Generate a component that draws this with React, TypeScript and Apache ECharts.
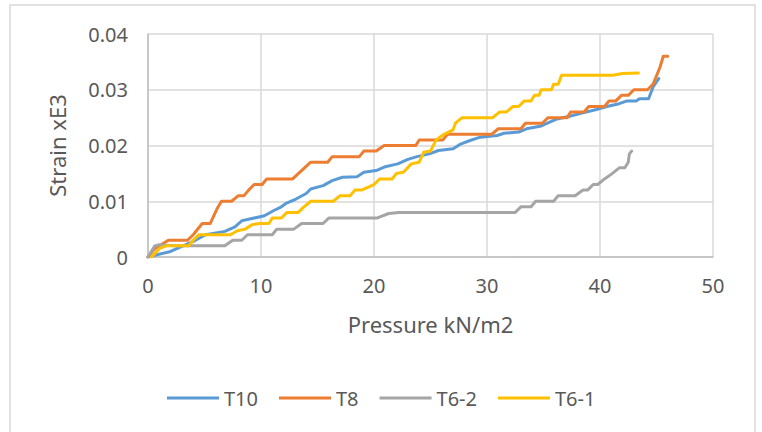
import React, { useEffect, useRef } from "react";
import * as echarts from "echarts";

const xTicks = [0, 10, 20, 30, 40, 50];
const yTicks = [0, 0.01, 0.02, 0.03, 0.04];
const seriesNames = ["T10", "T8", "T6-2", "T6-1"];

const T10: number[][] = [
  [0, 0], [2, 0.001], [4.2, 0.003], [5.1, 0.004], [6.8, 0.0046], [7.7, 0.0054], [8.3, 0.0065],
  [9, 0.0068], [10.3, 0.0074], [11.1, 0.0083], [11.8, 0.009], [12.2, 0.0096], [13.1, 0.0104],
  [14, 0.0114], [14.4, 0.0122], [15.5, 0.0128], [16.3, 0.0137], [17.2, 0.0143], [18.5, 0.0144],
  [19.1, 0.0152], [20.2, 0.0155], [21, 0.0162], [22.1, 0.0167], [23, 0.0175], [23.8, 0.018],
  [24.9, 0.0185], [25.7, 0.0191], [27, 0.0194], [27.6, 0.0202], [28.5, 0.0209], [29.4, 0.0215],
  [30.9, 0.0218], [31.5, 0.0222], [32.8, 0.0224], [33.5, 0.023], [34.8, 0.0235], [36.1, 0.0247],
  [37.4, 0.0253], [38.4, 0.0258], [39.6, 0.0264], [40.6, 0.027], [41.7, 0.0275], [42.4, 0.028],
  [43.2, 0.028], [43.5, 0.0284], [44.3, 0.0284], [44.7, 0.0305], [45.2, 0.032],
];

const T8: number[][] = [
  [0, 0], [0.6, 0.0015], [1.8, 0.003], [3.5, 0.003], [4, 0.004], [4.8, 0.006], [5.5, 0.006],
  [6.1, 0.0086], [6.5, 0.01], [7.4, 0.01], [8, 0.011], [8.5, 0.011], [8.9, 0.012], [9.4, 0.013],
  [10.1, 0.013], [10.5, 0.014], [12.8, 0.014], [14.4, 0.017], [15.9, 0.017], [16.3, 0.018],
  [18.7, 0.018], [19.1, 0.019], [20.2, 0.019], [20.9, 0.02], [23.7, 0.02], [24, 0.021],
  [26.1, 0.021], [26.5, 0.022], [30.4, 0.022], [31, 0.023], [33, 0.023], [33.4, 0.024],
  [34.9, 0.024], [35.4, 0.025], [37.1, 0.025], [37.4, 0.026], [38.6, 0.026], [39, 0.027],
  [40.4, 0.027], [40.8, 0.028], [41.4, 0.028], [41.9, 0.029], [42.5, 0.029], [43, 0.03],
  [44.2, 0.03], [44.7, 0.031], [45.3, 0.034], [45.6, 0.036], [46, 0.036],
];

const T6_2: number[][] = [
  [0, 0], [0.6, 0.002], [1, 0.0022], [2.3, 0.002], [6.8, 0.002], [7.5, 0.003], [8.3, 0.003],
  [8.8, 0.004], [11, 0.004], [11.4, 0.005], [12.9, 0.005], [13.6, 0.006], [15.5, 0.006],
  [16, 0.007], [20.3, 0.007], [21.3, 0.0078], [22.2, 0.008], [32.5, 0.008], [33, 0.009],
  [33.9, 0.009], [34.3, 0.01], [35.9, 0.01], [36.3, 0.011], [37.8, 0.011], [38.5, 0.012],
  [38.9, 0.012], [39.4, 0.013], [39.8, 0.013], [40.4, 0.014], [41.1, 0.015], [41.7, 0.016],
  [42.2, 0.016], [42.5, 0.017], [42.6, 0.0185], [42.8, 0.019],
];

const T6_1: number[][] = [
  [0.3, 0], [0.6, 0.0006], [1, 0.0015], [1.6, 0.002], [3.6, 0.002], [4, 0.003], [4.5, 0.004],
  [7.3, 0.004], [7.9, 0.0047], [8.6, 0.005], [9.2, 0.0058], [9.9, 0.006], [10.7, 0.006],
  [11, 0.007], [11.8, 0.007], [12.3, 0.008], [13.3, 0.008], [13.8, 0.009], [14.4, 0.01],
  [16.4, 0.01], [17, 0.011], [17.9, 0.011], [18.3, 0.012], [18.9, 0.012], [20, 0.013],
  [20.5, 0.014], [21.6, 0.014], [22, 0.015], [22.6, 0.0152], [23.3, 0.0167], [24, 0.017],
  [24.4, 0.0188], [25, 0.019], [25.5, 0.021], [26.2, 0.022], [27, 0.0228], [27.2, 0.024],
  [27.8, 0.025], [30.5, 0.025], [31.1, 0.026], [31.7, 0.026], [32.3, 0.027], [32.8, 0.027],
  [33.3, 0.028], [33.9, 0.028], [34.2, 0.029], [34.6, 0.029], [34.8, 0.03], [35.7, 0.03],
  [35.9, 0.031], [36.3, 0.031], [36.6, 0.0326], [41.1, 0.0326], [42, 0.0329], [43.4, 0.033],
];

const seriesData = [T10, T8, T6_2, T6_1];
const colors = ["#5B9BD5", "#ED7D31", "#A5A5A5", "#FFC000"];

const FONT = "'Noto Sans', sans-serif";

export default function App() {
  const ref = useRef<HTMLDivElement>(null);
  useEffect(() => {
    if (!ref.current) return;
    const chart = echarts.init(ref.current, undefined, { renderer: "svg" });
    chart.setOption({
      animation: false,
      backgroundColor: "#ffffff",
      textStyle: { fontFamily: FONT },
      graphic: [
        {
          type: "rect",
          shape: { x: 10, y: 5, width: 745, height: 440 },
          style: { fill: "none", stroke: "#D9D9D9", lineWidth: 1.5 },
          silent: true,
        },
      ],
      grid: { left: 148, top: 34, right: 49, bottom: 175, containLabel: false },
      legend: {
        data: seriesNames,
        top: 383,
        left: 162,
        icon: "rect",
        itemWidth: 52,
        itemHeight: 3,
        itemGap: 21,
        textStyle: { fontFamily: FONT, fontSize: 20, color: "#595959" },
      },
      xAxis: {
        type: "value",
        min: 0,
        max: 50,
        interval: 10,
        name: "Pressure kN/m2",
        nameLocation: "middle",
        nameGap: 56,
        nameTextStyle: { fontFamily: FONT, fontSize: 22, color: "#595959" },
        axisLine: { show: true, lineStyle: { color: "#BFBFBF", width: 1.5 } },
        axisTick: { show: false },
        axisLabel: {
          fontFamily: FONT, fontSize: 20, color: "#595959", margin: 18,
          formatter: (v: number) => (xTicks.includes(v) ? String(v) : ""),
        },
        splitLine: { show: true, lineStyle: { color: "#D9D9D9", width: 1.5 } },
      },
      yAxis: {
        type: "value",
        min: 0,
        max: 0.04,
        interval: 0.01,
        name: "Strain xE3",
        nameLocation: "middle",
        nameGap: 80,
        nameRotate: 90,
        nameTextStyle: { fontFamily: FONT, fontSize: 22, color: "#595959" },
        axisLine: { show: true, lineStyle: { color: "#BFBFBF", width: 1.5 } },
        axisTick: { show: false },
        axisLabel: {
          fontFamily: FONT, fontSize: 20, color: "#595959", margin: 20,
          formatter: (v: number) => {
            const t = yTicks.find((k) => Math.abs(k - v) < 1e-9);
            return t === undefined ? "" : t === 0 ? "0" : t.toFixed(2);
          },
        },
        splitLine: { show: true, lineStyle: { color: "#D9D9D9", width: 1.5 } },
      },
      series: seriesNames.map((name, i) => ({
        name,
        type: "line",
        data: seriesData[i],
        showSymbol: false,
        symbol: "none",
        smooth: false,
        lineStyle: { color: colors[i], width: 3, cap: "round", join: "round" },
        itemStyle: { color: colors[i] },
      })),
    });
    return () => chart.dispose();
  }, []);
  return (
    <div
      ref={ref}
      style={{ position: "fixed", left: 0, top: 0, width: 762, height: 432 }}
    />
  );
}
